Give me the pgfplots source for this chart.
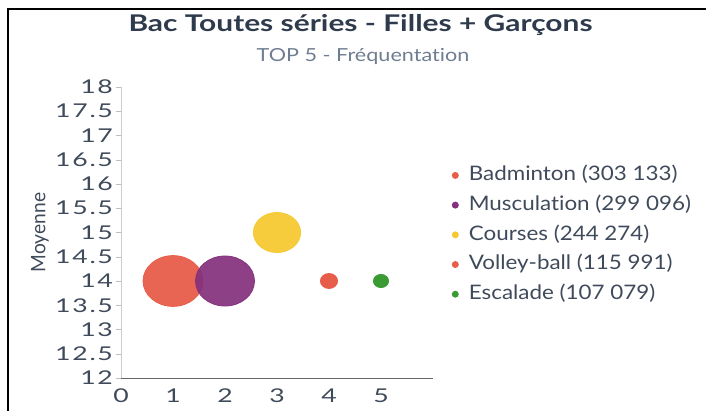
\documentclass[border=0pt]{standalone}
\usepackage{fontspec}
\setmainfont{Lato}[FakeStretch=1.12, Ligatures=CommonOff]
\newfontfamily\titlefont{Lato}[FakeStretch=1.3, Ligatures=CommonOff]
\newfontfamily\subfont{Lato}[FakeStretch=1.2, Ligatures=CommonOff]
\newfontfamily\tickfont{Lato}[FakeStretch=1.4, LetterSpace=9]
\newfontfamily\ylabfont{Lato}[FakeStretch=0.96]
\usepackage{pgfplots}
\pgfplotsset{compat=1.18}

\definecolor{titlecol}{HTML}{2F3B4C}
\definecolor{subcol}{HTML}{6F7D91}
\definecolor{tickcol}{HTML}{3F4A5A}
\definecolor{cBad}{HTML}{E85D4A}
\definecolor{cMus}{HTML}{84307C}
\definecolor{cCou}{HTML}{F5C932}
\definecolor{cVol}{HTML}{E85D4A}
\definecolor{cEsc}{HTML}{3A9B35}

\begin{document}
\begin{tikzpicture}
  % page is 706x411 px at 0.5pt per px
  \path[use as bounding box] (0,0) rectangle (353pt,205.5pt);
  \draw[line width=1pt] (4pt,0) -- (4pt,201pt) -- (353pt,201pt);

  \node[anchor=base, font=\titlefont\bfseries\fontsize{11.5}{13}\selectfont, text=titlecol]
    at (180.25pt,189.5pt) {Bac Toutes séries - Filles + Garçons};
  \node[anchor=base, font=\subfont\fontsize{9}{10}\selectfont, text=subcol]
    at (181.5pt,174.5pt) {TOP 5 - Fréquentation};

  \begin{axis}[
    at={(60.5pt,16.5pt)}, anchor=south west,
    scale only axis,
    width=156pt, height=145.5pt,
    xmin=0, xmax=6,
    ymin=12, ymax=18,
    xtick={0,1,2,3,4,5},
    ytick distance=0.5,
    axis x line*=bottom,
    axis y line*=left,
    x axis line style={draw=gray!80!black, -},
    y axis line style={draw=gray!40, -},
    xtick style={draw=none},
    ytick style={draw=gray!50},
    tick align=outside,
    major tick length=2.5pt,
    tick label style={font=\tickfont\fontsize{9.5}{10}\selectfont, text=tickcol},
    yticklabel style={xshift=2pt},
    xticklabel style={yshift=0.5pt},
    /pgf/number format/assume math mode=true,
    ylabel={Moyenne},
    ylabel style={at={(axis description cs:-0.26,0.5)}, anchor=center,
      font=\ylabfont\fontsize{10}{11}\selectfont, text=tickcol},
    clip=false,
    legend cell align=left,
    legend style={
      at={(1.059,0.492)}, anchor=west,
      draw=none, fill=none,
      inner sep=0pt,
      row sep=5.15pt,
      nodes={inner sep=0pt, text height=7.5pt, text depth=2.2pt, text=tickcol,
        font=\fontsize{10}{11}\selectfont},
      /tikz/every odd column/.append style={column sep=5pt},
    },
    legend image code/.code={\fill[draw=none] (1.75pt,0pt) circle (1.75pt);},
  ]
    % Badminton
    \addplot[only marks, color=cBad, mark=*, mark size=12.7pt,
      mark options={xscale=1.18, draw=none, fill=cBad, fill opacity=0.95}]
      coordinates {(1,14)};
    \addlegendentry{Badminton (303 133)}
    % Musculation
    \addplot[only marks, color=cMus, mark=*, mark size=12.5pt,
      mark options={xscale=1.18, draw=none, fill=cMus, fill opacity=0.92}]
      coordinates {(2,14)};
    \addlegendentry{Musculation (299 096)}
    % Courses
    \addplot[only marks, color=cCou, mark=*, mark size=10pt,
      mark options={xscale=1.18, draw=none, fill=cCou, fill opacity=0.95}]
      coordinates {(3,15)};
    \addlegendentry{Courses (244 274)}
    % Volley-ball
    \addplot[only marks, color=cVol, mark=*, mark size=3.75pt,
      mark options={xscale=1.15, draw=none, fill=cVol}]
      coordinates {(4,14)};
    \addlegendentry{Volley-ball (115 991)}
    % Escalade
    \addplot[only marks, color=cEsc, mark=*, mark size=3.3pt,
      mark options={xscale=1.15, draw=none, fill=cEsc}]
      coordinates {(5,14)};
    \addlegendentry{Escalade (107 079)}
  \end{axis}
\end{tikzpicture}
\end{document}
